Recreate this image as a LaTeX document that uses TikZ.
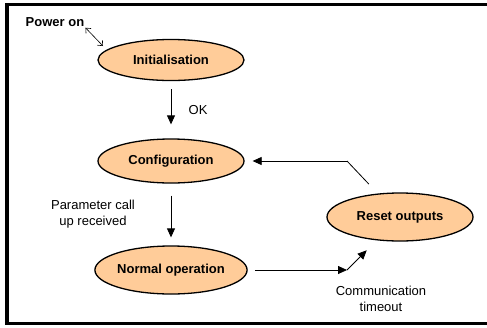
\documentclass[tikz,border=0pt]{standalone}
\usepackage{fontspec}
\setmainfont{Liberation Sans}
\usetikzlibrary{arrows.meta, shapes.geometric}

\begin{document}
\begin{tikzpicture}[x=1pt, y=-1pt,
  state/.style={ellipse, draw, line width=1.3pt, fill=peach, minimum width=146pt, minimum height=44pt, inner sep=0pt, font=\fontsize{13}{15}\selectfont\bfseries},
  flow/.style={-{Triangle[length=9pt, width=8pt]}, line width=0.8pt},
  note/.style={align=center, font=\fontsize{13}{16}\selectfont}]
\definecolor{peach}{HTML}{FFCC99}
\useasboundingbox (0,0) rectangle (487,327);

% Frame (open on the right, where the page ends)
\draw[line width=3.5pt] (487,4.5) -- (7,4.5) -- (7,323.5) -- (487,323.5);

% States
\node[state, minimum height=41pt] (init) at (171,60) {Initialisation};
\node[state] (config) at (171,161) {Configuration};
\node[state, minimum height=48pt] (normal) at (171,270) {Normal operation};
\node[state, minimum height=48pt] (reset) at (400,217) {Reset outputs};

% Power on
\node[font=\fontsize{13}{15}\selectfont\bfseries, inner sep=1pt] (poweron) at (55,22) {Power on};
\coordinate (initin) at (103,46);
\draw[{Straight Barb[length=4pt, width=7pt]}-{Straight Barb[length=4pt, width=7pt]}, line width=0.6pt] (poweron.south east) -- (initin);

% Bend points
\coordinate (nbend) at (347,270);
\coordinate (rbend) at (347,161);

% Transitions
\draw[flow, shorten <=8pt, shorten >=14pt] (init) -- (config) node[note, pos=0.5, right=14pt] (ok) {OK};
\draw[flow, shorten <=12pt, shorten >=8pt] (config) -- (normal);
\draw[flow, shorten <=7pt] (normal) -- (nbend);
\draw[flow, shorten >=14pt] (nbend) -- (reset);
\draw[line width=0.8pt, shorten <=13pt] (reset) -- (rbend);
\draw[flow, shorten >=8pt] (rbend) -- (config);

% Labels
\node[note] (param) at (93,214) {Parameter call\\up received};
\node[note] (timeout) at (381,299) {Communication\\timeout};

\end{tikzpicture}
\end{document}
